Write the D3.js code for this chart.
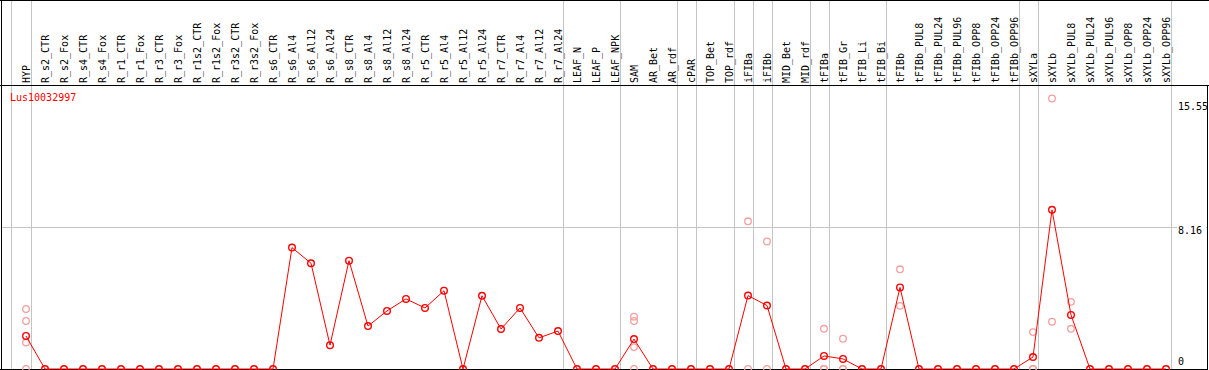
<!DOCTYPE html>
<html>
<head>
<meta charset="utf-8">
<script src="https://cdn.jsdelivr.net/npm/d3@7"></script>
<style>
  body { margin: 0; background: #fff; }
  svg { display: block; }
  text { font-family: "DejaVu Sans Mono", "Liberation Mono", monospace; font-size: 10px; }
</style>
</head>
<body>
<svg id="chart" width="1209" height="370"></svg>
<script>
const geneId = 'Lus10032997'

const samples = [
	'HYP', 'R_s2_CTR', 'R_s2_Fox', 'R_s4_CTR', 'R_s4_Fox', 'R_r1_CTR', 'R_r1_Fox',
	'R_r3_CTR', 'R_r3_Fox', 'R_r1s2_CTR', 'R_r1s2_Fox', 'R_r3s2_CTR', 'R_r3s2_Fox',
	'R_s6_CTR', 'R_s6_Al4', 'R_s6_Al12', 'R_s6_Al24', 'R_s8_CTR', 'R_s8_Al4',
	'R_s8_Al12', 'R_s8_Al24', 'R_r5_CTR', 'R_r5_Al4', 'R_r5_Al12', 'R_r5_Al24',
	'R_r7_CTR', 'R_r7_Al4', 'R_r7_Al12', 'R_r7_Al24', 'LEAF_N', 'LEAF_P', 'LEAF_NPK',
	'SAM', 'AR_Bet', 'AR_rdf', 'cPAR', 'TOP_Bet', 'TOP_rdf', 'iFIBa', 'iFIBb',
	'MID_Bet', 'MID_rdf', 'tFIBa', 'tFIB_Gr', 'tFIB_Li', 'tFIB_Bi', 'tFIBb',
	'tFIBb_PUL8', 'tFIBb_PUL24', 'tFIBb_PUL96', 'tFIBb_OPP8', 'tFIBb_OPP24', 'tFIBb_OPP96',
	'sXYLa', 'sXYLb', 'sXYLb_PUL8', 'sXYLb_PUL24', 'sXYLb_PUL96', 'sXYLb_OPP8',
	'sXYLb_OPP24', 'sXYLb_OPP96'
]

// mean expression per sample (red line)
const meanValues = [
	1.90, 0, 0, 0, 0, 0, 0,
	0, 0, 0, 0, 0, 0,
	0, 6.98, 6.08, 1.37, 6.23, 2.47,
	3.34, 4.03, 3.51, 4.50, 0, 4.21,
	2.30, 3.51, 1.79, 2.18, 0, 0, 0,
	1.72, 0, 0, 0, 0, 0, 4.22, 3.65,
	0, 0, 0.75, 0.58, 0, 0, 4.69,
	0, 0, 0, 0, 0, 0,
	0.69, 9.15, 3.11, 0, 0, 0,
	0, 0
]

// individual replicates (pale circles), only where they show
const replicateSamples = ['HYP', 'SAM', 'iFIBa', 'iFIBb', 'tFIBa', 'tFIB_Gr', 'tFIBb', 'sXYLa', 'sXYLb', 'sXYLb_PUL8']
const replicateValues = [
	[3.45, 2.76, 1.52, 0],
	[3.01, 2.76, 1.26, 0],
	[8.49, 0],
	[7.33, 0],
	[2.31, 0, 0],
	[1.74, 0, 0],
	[5.73, 3.63],
	[2.12, 0, 0],
	[15.55, 2.72],
	[3.86, 2.31]
]

// the sample after which a group separator is drawn
const groupEnds = ['HYP', 'R_r7_Al24', 'LEAF_NPK', 'AR_rdf', 'cPAR', 'TOP_rdf', 'iFIBa',
	'iFIBb', 'MID_rdf', 'tFIBa', 'tFIB_Bi', 'tFIBb_OPP96', 'sXYLa', 'sXYLb_OPP96']

const yTicks = [0, 8.16, 15.55]

const width = 1209
const height = 370
const headerY = 85.5
const sepOffset = 4.5
const red = '#ff0000'
const pale = '#f2a0a0'
const grey = '#c4c4c4'

const svg = d3.select('#chart')

const x = d3.scalePoint()
	.domain(samples)
	.range([26, 1166])

const y = d3.scaleLinear()
	.domain([0, d3.max(yTicks)])
	.range([369, 98.5])

// horizontal grid at the middle tick
svg.append('g')
	.selectAll('line')
	.data(yTicks.filter((t) => t > 0 && t < d3.max(yTicks)))
	.join('line')
		.attr('x1', 1)
		.attr('x2', 1207)
		.attr('y1', (t) => Math.round(y(t)) + 0.5)
		.attr('y2', (t) => Math.round(y(t)) + 0.5)
		.attr('stroke', grey)

// group separators, one before the first sample plus after each group
const sepX = [x(samples[0]) - x.step() + sepOffset - 1]
	.concat(groupEnds.map((s) => x(s) + sepOffset))

svg.append('g')
	.selectAll('line')
	.data(sepX)
	.join('line')
		.attr('x1', (d) => Math.round(d) + 0.5)
		.attr('x2', (d) => Math.round(d) + 0.5)
		.attr('y1', 0)
		.attr('y2', height)
		.attr('stroke', grey)

// frame
const frame = svg.append('g').attr('stroke', '#000').attr('fill', 'none')
frame.append('line').attr('x1', 0).attr('x2', width).attr('y1', 0.5).attr('y2', 0.5)
frame.append('line').attr('x1', 0).attr('x2', width).attr('y1', headerY).attr('y2', headerY)
frame.append('line').attr('x1', 1.5).attr('x2', 1.5).attr('y1', 0).attr('y2', height)
frame.append('line').attr('x1', 0).attr('x2', 1208).attr('y1', 369.5).attr('y2', 369.5)
frame.append('line').attr('x1', 1207.5).attr('x2', 1207.5).attr('y1', headerY).attr('y2', height)

// column labels
svg.append('g')
	.selectAll('text')
	.data(samples)
	.join('text')
		.attr('transform', (s) => `translate(${x(s) + 3.5},83) rotate(-90)`)
		.attr('fill', '#000')
		.text((s) => s)

// value labels on the right
const ticks = svg.append('g')
	.selectAll('g')
	.data(yTicks)
	.join('g')
		.attr('transform', (t) => `translate(1178,${y(t) + (t === 0 ? -7 : (t === d3.max(yTicks) ? 8 : 4))})`)
ticks.append('rect')
	.attr('x', -1)
	.attr('y', -6)
	.attr('width', 29)
	.attr('height', 11)
	.attr('fill', '#fff')
	.attr('opacity', (t) => t > 0 && t < d3.max(yTicks) ? 1 : 0)
ticks.append('text')
	.attr('dy', '0.32em')
	.attr('fill', '#000')
	.text((t) => t)

// gene id
svg.append('text')
	.attr('x', 10)
	.attr('y', 101)
	.attr('fill', red)
	.style('font-size', '10px')
	.text(geneId)

// replicates
const reps = replicateSamples.flatMap((s, i) => replicateValues[i].map((v) => ({ s, v })))
svg.append('g')
	.selectAll('circle')
	.data(reps)
	.join('circle')
		.attr('cx', (d) => x(d.s))
		.attr('cy', (d) => y(d.v))
		.attr('r', 3.3)
		.attr('fill', 'none')
		.attr('stroke', pale)
		.attr('stroke-width', 1.3)

// mean line
const series = samples.map((s, i) => ({ s, v: meanValues[i] }))
svg.append('path')
	.datum(series)
	.attr('fill', 'none')
	.attr('stroke', red)
	.attr('stroke-width', 1)
	.attr('d', d3.line().x((d) => x(d.s)).y((d) => y(d.v)))

svg.append('g')
	.selectAll('circle')
	.data(series)
	.join('circle')
		.attr('cx', (d) => x(d.s))
		.attr('cy', (d) => y(d.v))
		.attr('r', 3.3)
		.attr('fill', 'none')
		.attr('stroke', red)
		.attr('stroke-width', 1.4)
</script>
</body>
</html>
